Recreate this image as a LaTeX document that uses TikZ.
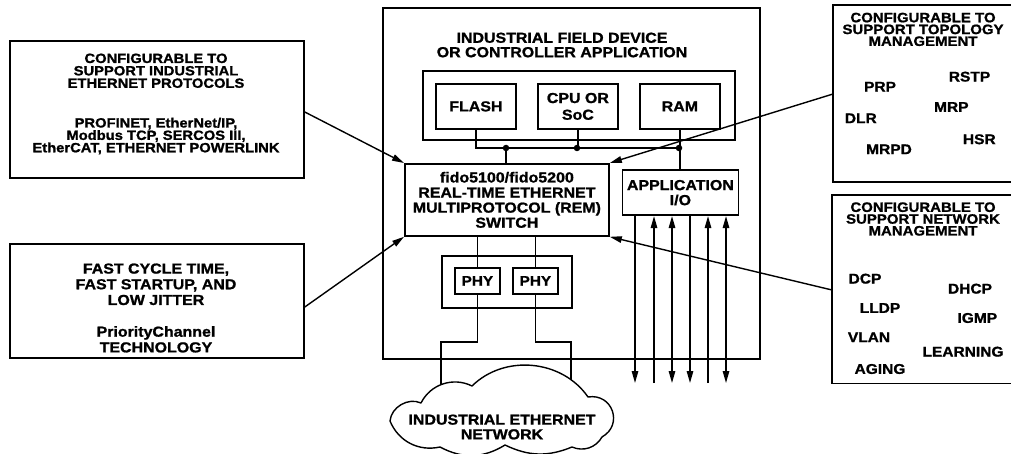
\documentclass[tikz,border=0pt]{standalone}
\usepackage{fontspec}
\newfontfamily\hv{Liberation Sans}[FakeStretch=1.1,FakeBold=1.2]
\usetikzlibrary{arrows.meta,calc}
\begin{document}
\begin{tikzpicture}[x=1pt,y=-1pt,
  box/.style={draw, line width=1.8pt, inner sep=0pt, anchor=north west},
  tx/.style 2 args={font=\hv\bfseries\fontsize{#1}{#2}\selectfont, align=center, inner sep=0pt},
  ln/.style={line width=1.4pt},
  tip/.style={-{Triangle[length=12pt,width=6.5pt]}},
  arr/.style={ln, tip},
  dot/.style={circle, fill, inner sep=0pt, minimum size=6.5pt}]
\useasboundingbox (0,0) rectangle (1011,454);

% left boxes
\node[box, minimum width=294pt, minimum height=137pt] (lt) at (9,40) {};
\node[tx={13.4}{12.4}] (ltt) at (156,104) {CONFIGURABLE TO\\SUPPORT INDUSTRIAL\\ETHERNET PROTOCOLS\\[27.3pt]PROFINET, EtherNet/IP,\\Modbus TCP, SERCOS III,\\EtherCAT, ETHERNET POWERLINK};
\node[box, minimum width=294pt, minimum height=114pt] (lb) at (9,243) {};
\node[tx={14.5}{15.7}] (lbt) at (156,308) {FAST CYCLE TIME,\\FAST STARTUP, AND\\LOW JITTER\\[16pt]PriorityChannel\\TECHNOLOGY};

% main device
\node[box, minimum width=377pt, minimum height=351pt] (main) at (382,7) {};
\node[tx={14.5}{14.4}] (title) at (562,45) {INDUSTRIAL FIELD DEVICE\\OR CONTROLLER APPLICATION};
\node[box, minimum width=312pt, minimum height=69pt] (inner) at (422,70) {};
\node[box, tx={14.5}{16.7}, minimum width=80pt, minimum height=45pt, anchor=north west] (fl) at (435,83) {FLASH};
\node[box, tx={14.5}{16.7}, minimum width=80pt, minimum height=45pt, anchor=north west] (cpu) at (537,83) {CPU OR\\SoC};
\node[box, tx={14.5}{16.7}, minimum width=80pt, minimum height=45pt, anchor=north west] (ram) at (639,83) {RAM};
\node[box, tx={14.5}{15.1}, minimum width=204pt, minimum height=72pt, anchor=north west] (sw) at (404,163) {fido5100/fido5200\\REAL-TIME ETHERNET\\MULTIPROTOCOL (REM)\\SWITCH};
\node[box, tx={14.5}{15}, minimum width=116pt, minimum height=45pt, anchor=north west] (app) at (621.5,169.3) {APPLICATION\\I/O};
\node[box, minimum width=130pt, minimum height=52pt] (phyc) at (441,255) {};
\node[box, tx={14}{14}, minimum width=45pt, minimum height=26pt, anchor=north west] (phy1) at (454,267) {PHY};
\node[box, tx={14}{14}, minimum width=45pt, minimum height=26pt, anchor=north west] (phy2) at (512,267) {PHY};

% bus
\draw[ln] (fl.south) |- (ram.south |- 0,148);
\draw[ln] (cpu.south) -- (cpu.south |- 0,148);
\draw[ln] (ram.south) -- (ram.south |- app.north);
\node[dot] (d1) at (506,148) {};
\node[dot] (d2) at (577,148) {};
\node[dot] (d3) at (679,148) {};
\draw[ln] (d1) -- (d1 |- sw.north);

% switch to PHY
\draw[ln] (phy1.north |- sw.south) -- (phy1.north);
\draw[ln] (phy2.north |- sw.south) -- (phy2.north);

% PHY to network
\coordinate (c1) at (441,398);
\coordinate (c2) at (571,385);
\draw[ln] (phy1.south) -- (phy1.south |- 0,342) -| (c1);
\draw[ln] (phy2.south) -- (phy2.south |- 0,342) -| (c2);

% I/O lines
\coordinate (b1) at (635,383);
\coordinate (b2) at (654,383);
\coordinate (b3) at (672,383);
\coordinate (b4) at (690,383);
\coordinate (b5) at (708,383);
\coordinate (b6) at (726,383);
\draw[ln, tip] (app.south -| b1) -- (b1);
\draw[ln, tip] (b2) -- (app.south -| b2);
\draw[ln, {Triangle[length=12pt,width=6.5pt]}-{Triangle[length=12pt,width=6.5pt]}] (app.south -| b3) -- (b3);
\draw[ln, tip] (app.south -| b4) -- (b4);
\draw[ln, tip] (b5) -- (app.south -| b5);
\draw[ln, {Triangle[length=12pt,width=6.5pt]}-{Triangle[length=12pt,width=6.5pt]}] (app.south -| b6) -- (b6);

% cloud
\draw[ln, fill=white, line join=round]
  (390,421) to[bend left=55] (421,403)
  to[bend left=45] (472,386)
  to[bend left=50] (588,397)
  to[bend left=80, looseness=1.5] (602,437)
  to[bend left=42] (572,447)
  to[bend left=24] (505,445)
  to[bend left=30] (440,447)
  to[bend left=40] cycle;
\node[tx={14.5}{14.7}] (clt) at (502,427) {INDUSTRIAL ETHERNET\\NETWORK};

% right boxes
\node[inner sep=0pt, minimum width=178pt, minimum height=177pt, anchor=north west] (rt) at (833,5) {};
\draw[line width=1.8pt] (rt.north east) -- (rt.north west) -- (rt.south west) -- (rt.south east);
\node[tx={13.6}{11.8}] (rtt) at (923,29.4) {CONFIGURABLE TO\\SUPPORT TOPOLOGY\\MANAGEMENT};
\node[tx={14.1}{14.1}] (prp) at (880,86.7) {PRP};
\node[tx={14.1}{14.1}] (rstp) at (969.5,76.7) {RSTP};
\node[tx={14.1}{14.1}] (dlr) at (860.8,118.3) {DLR};
\node[tx={14.1}{14.1}] (mrp) at (951.3,107) {MRP};
\node[tx={14.1}{14.1}] (hsr) at (979.3,139.3) {HSR};
\node[tx={14.1}{14.1}] (mrpd) at (889,149.3) {MRPD};

\node[inner sep=0pt, minimum width=179pt, minimum height=188pt, anchor=north west] (rb) at (832,195) {};
\draw[line width=1.8pt] (rb.north east) -- (rb.north west) -- (rb.south west) -- (rb.south east);
\node[tx={13.6}{11.8}] (rbt) at (923,219) {CONFIGURABLE TO\\SUPPORT NETWORK\\MANAGEMENT};
\node[tx={14.1}{14.1}] (dcp) at (865,278.7) {DCP};
\node[tx={14.1}{14.1}] (dhcp) at (970,288.7) {DHCP};
\node[tx={14.1}{14.1}] (lldp) at (880,308) {LLDP};
\node[tx={14.1}{14.1}] (igmp) at (977.3,318) {IGMP};
\node[tx={14.1}{14.1}] (vlan) at (869,337.3) {VLAN};
\node[tx={14.1}{14.1}] (learn) at (963,351.7) {LEARNING};
\node[tx={14.1}{14.1}] (aging) at (880,369) {AGING};

% connectors to the switch
\draw[arr] (lt.east |- 0,112) -- (sw.north west);
\draw[arr] (lb.east |- 0,307) -- (sw.south west);
\draw[arr] (rt.west |- 0,94) -- (sw.north east);
\draw[arr] (rb.west |- 0,290) -- (sw.south east);
\end{tikzpicture}
\end{document}
